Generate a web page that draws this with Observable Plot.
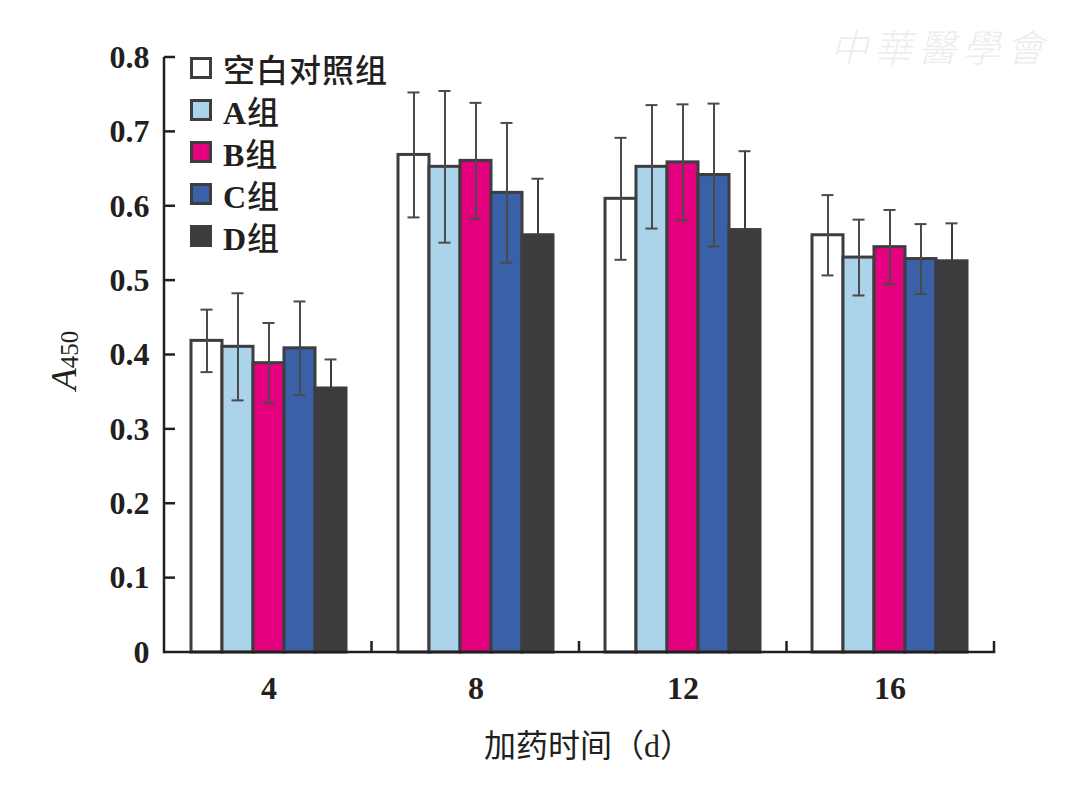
<!DOCTYPE html>
<html>
<head>
<meta charset="utf-8">
<script src="https://cdn.jsdelivr.net/npm/d3@7"></script>
<script src="https://cdn.jsdelivr.net/npm/@observablehq/plot@0.6"></script>
<style>
  html, body { margin: 0; padding: 0; background: #fff; }
  #wrap { position: relative; width: 1066px; height: 790px; overflow: hidden; }
  #legend { position: absolute; left: 190px; top: 47px; }
  .row { display: flex; align-items: center; height: 42px; }
  .sw { width: 16px; height: 16px; border: 3px solid #3d3d3f; margin-right: 11px; }
  .lt { font-family: "Liberation Serif", serif; font-weight: bold; font-size: 32px; color: #231f20; letter-spacing: 1px; }
  .lt .cjk { font-family: "Noto Sans CJK SC", sans-serif; font-weight: 500; }
  #wm { position: absolute; left: 830px; top: 18px; font-family: "Noto Sans CJK TC", sans-serif; font-size: 38px; color: #ededed; font-style: italic; font-weight: 300; letter-spacing: 6px; }
  #xtitle { position: absolute; left: 0; width: 1176px; text-align: center; top: 720px; font-family: "Liberation Serif", "Noto Sans CJK SC", serif; font-size: 32px; color: #231f20; }
</style>
</head>
<body>
<div id="wrap"></div>
<script>
// ---- data ----
const times = ["4", "8", "12", "16"];
const groups = ["空白对照组", "A组", "B组", "C组", "D组"];
const colors = ["#ffffff", "#abd3e9", "#e5007f", "#3a60a8", "#3c3c3e"];

const blankMean = [0.419, 0.669, 0.610, 0.561];
const blankSD   = [0.042, 0.084, 0.082, 0.054];
const aMean = [0.411, 0.653, 0.653, 0.531];
const aSD   = [0.072, 0.102, 0.083, 0.051];
const bMean = [0.389, 0.661, 0.659, 0.545];
const bSD   = [0.054, 0.078, 0.078, 0.050];
const cMean = [0.409, 0.618, 0.642, 0.529];
const cSD   = [0.063, 0.094, 0.096, 0.047];
const dMean = [0.355, 0.561, 0.568, 0.526];
const dSD   = [0.039, 0.076, 0.106, 0.051];

const yTicks = [0, 0.1, 0.2, 0.3, 0.4, 0.5, 0.6, 0.7, 0.8];

const means = [blankMean, aMean, bMean, cMean, dMean];
const sds = [blankSD, aSD, bSD, cSD, dSD];
const rows = [];
times.forEach((t, i) => groups.forEach((g, j) => rows.push({time: t, group: g, value: means[j][i], sd: sds[j][i]})));

const ink = "#231f20";
const errColor = "#4a4a4c";
const errStroke = d => d.group === groups[4] ? colors[4] : errColor;

const plot = Plot.plot({
  width: 1066,
  height: 790,
  marginLeft: 164,
  marginRight: 72,
  marginTop: 57,
  marginBottom: 138,
  style: {fontFamily: "Liberation Serif, serif", fontSize: "32px", fontWeight: "bold", color: ink, background: "transparent", overflow: "visible"},
  fx: {domain: times, padding: 0, label: null, tickSize: 0, tickPadding: 24},
  x: {domain: groups, paddingInner: 0, paddingOuter: 0.74, axis: null},
  y: {domain: [0, 0.8], ticks: yTicks, tickSize: 0, tickPadding: 16, label: null,
      tickFormat: d => d === 0 ? "0" : d.toFixed(1)},
  color: {domain: groups, range: colors},
  marks: [
    Plot.barY(rows, {fx: "time", x: "group", y: "value", fill: "group", stroke: "#3d3d3f", strokeWidth: 3}),
    Plot.ruleX(rows, {fx: "time", x: "group", y1: d => d.value - d.sd, y2: d => d.value + d.sd, stroke: errStroke, strokeWidth: 2}),
    Plot.tickY(rows, {fx: "time", x: "group", y: d => d.value + d.sd, stroke: errColor, strokeWidth: 2, insetLeft: 9.5, insetRight: 9.5}),
    Plot.tickY(rows, {fx: "time", x: "group", y: d => d.value - d.sd, stroke: errStroke, strokeWidth: 2, insetLeft: 9.5, insetRight: 9.5})
  ]
});

document.getElementById("wrap").appendChild(plot);

// ---- axis lines & inward ticks from Plot's own scales ----
const ys = plot.scale("y");
const yS = d3.scaleLinear(ys.domain, ys.range);
const fxs = plot.scale("fx");
const fxS = d3.scaleBand(fxs.domain, fxs.range)
  .paddingInner(fxs.paddingInner ?? 0).paddingOuter(fxs.paddingOuter ?? 0).align(fxs.align ?? 0.5);
const x0 = fxs.range[0], x1 = fxs.range[1];
const svg = d3.select(plot);
const g = svg.append("g").attr("stroke", ink).attr("stroke-width", 2.5).attr("fill", "none");
g.append("line").attr("x1", x0).attr("x2", x0).attr("y1", yS(0) + 1.25).attr("y2", yS(0.8));
g.append("line").attr("x1", x0).attr("x2", x1 + 1.25).attr("y1", yS(0)).attr("y2", yS(0));
yTicks.filter(v => v > 0).forEach(v => {
  g.append("line").attr("x1", x0).attr("x2", x0 + 11).attr("y1", yS(v)).attr("y2", yS(v));
});
times.forEach(t => {
  const xr = fxS(t) + fxS.bandwidth();
  g.append("line").attr("x1", xr).attr("x2", xr).attr("y1", yS(0)).attr("y2", yS(0) - 11);
});

// y axis label: A450
const yl = svg.append("text")
  .attr("transform", `translate(76, ${yS(0.4) + 6}) rotate(-90)`)
  .attr("text-anchor", "middle")
  .attr("fill", ink)
  .style("font-family", "Liberation Serif, serif")
  .style("font-weight", "normal");
yl.append("tspan").text("A").style("font-style", "italic").style("font-size", "36px");
yl.append("tspan").text("450").style("font-size", "25px").attr("dy", 2);

// legend
const legend = document.createElement("div");
legend.id = "legend";
groups.forEach((gname, j) => {
  const r = document.createElement("div"); r.className = "row";
  const s = document.createElement("div"); s.className = "sw"; s.style.background = colors[j];
  const t = document.createElement("div"); t.className = "lt";
  const latin = gname.replace(/[^\x00-\x7F]/g, "");
  const cjk = gname.slice(latin.length);
  if (latin) t.appendChild(document.createTextNode(latin));
  const c = document.createElement("span"); c.className = "cjk"; c.textContent = cjk; t.appendChild(c);
  r.appendChild(s); r.appendChild(t); legend.appendChild(r);
});
document.getElementById("wrap").appendChild(legend);

// x axis title
const xt = document.createElement("div"); xt.id = "xtitle"; xt.textContent = "加药时间（d）";
document.getElementById("wrap").appendChild(xt);

// watermark
const wm = document.createElement("div"); wm.id = "wm"; wm.textContent = "中華醫學會";
document.getElementById("wrap").appendChild(wm);
</script>
</body>
</html>
